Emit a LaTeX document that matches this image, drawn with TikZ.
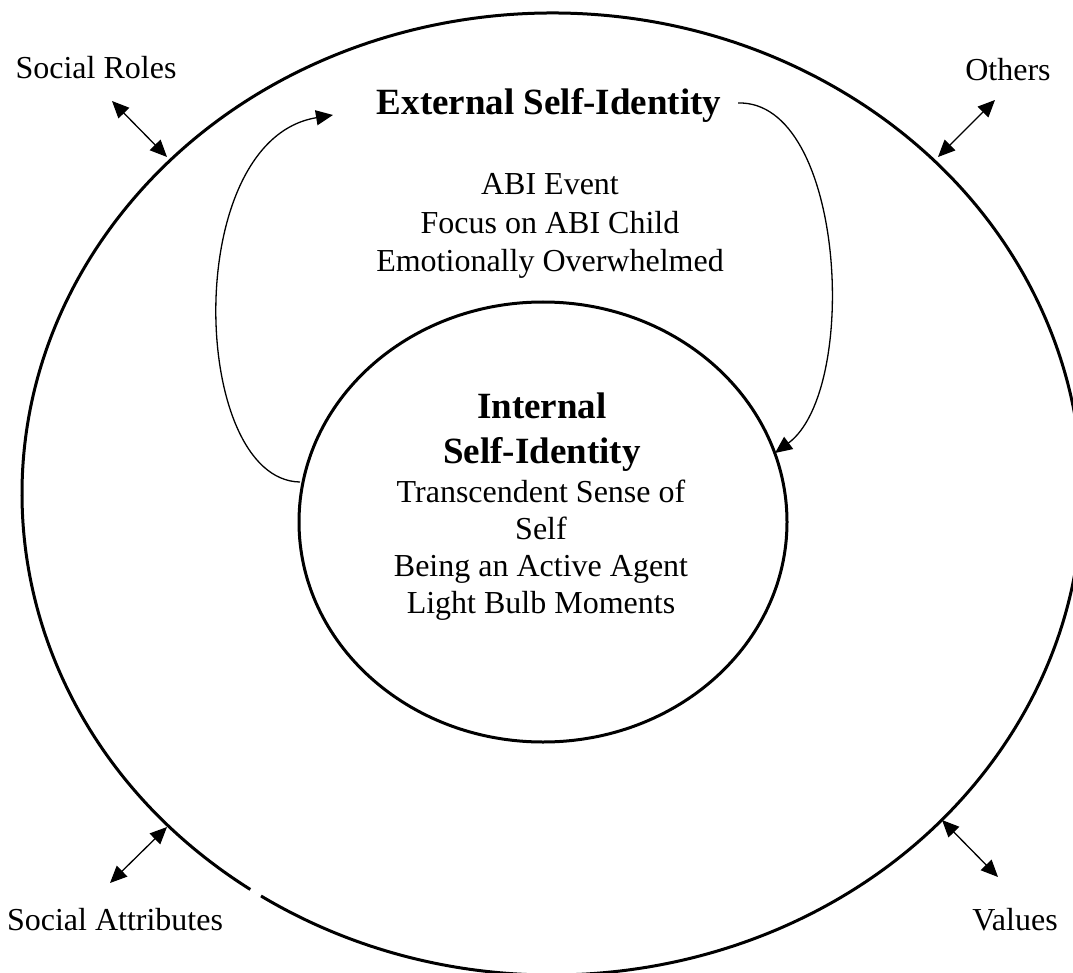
\documentclass[tikz,border=0pt]{standalone}
\usepackage{fontspec}
\setmainfont{Liberation Serif}
\usetikzlibrary{arrows.meta,shapes.geometric}
\begin{document}
\begin{tikzpicture}[x=1pt,y=-1pt,
  lbl/.style={font=\fontsize{32}{38.5}\selectfont, inner sep=0pt, align=center},
  bodyline/.style={font=\fontsize{32}{38.5}\selectfont, inner sep=0pt, anchor=base},
  ttl/.style={font=\fontsize{37}{45}\selectfont\bfseries, inner sep=0pt, align=center},
  ttlline/.style={font=\fontsize{37}{45}\selectfont\bfseries, inner sep=0pt, anchor=base},
  rim/.style={line width=3pt},
  tip/.tip={Triangle[length=17pt,width=15pt]},
  dbl/.style={line width=1.3pt, tip-tip},
  loopline/.style={line width=1.3pt, -tip}]
\clip (0,0) rectangle (1073,973);
\useasboundingbox (0,0) rectangle (1073,973);

% outer ellipse (with small gap at lower left)
\coordinate (outerc) at (552,494);
\draw[rim] (outerc) ++(236.7:530pt and 481pt)
  arc[start angle=236.7, end angle=595.3, x radius=530pt, y radius=481pt];

% inner ellipse
\node[draw, rim, ellipse, minimum width=488pt, minimum height=440pt, inner sep=0pt] (inner) at (543,522) {};

% texts
\node[ttl] (ext) at (549,105) {External Self-Identity};
\node[lbl] (abi) at (550,226) {ABI Event\\Focus on ABI Child\\Emotionally Overwhelmed};

\node[ttlline] (i1) at (542,418) {Internal};
\node[ttlline] (i2) at (542,463) {Self-Identity};
\node[bodyline] (i3) at (541,502) {Transcendent Sense of};
\node[bodyline] (i4) at (541,539) {Self};
\node[bodyline] (i5) at (541,576) {Being an Active Agent};
\node[bodyline] (i6) at (541,613) {Light Bulb Moments};

\node[lbl] (roles) at (96,68) {Social Roles};
\node[lbl] (others) at (1008,70) {Others};
\node[lbl] (attr) at (115,920) {Social Attributes};
\node[lbl] (values) at (1015,920) {Values};

% loop connectors
\coordinate (l1) at (300,482);
\coordinate (l2) at (333,115);
\draw[loopline] (l1) .. controls (190,480) and (180,140) .. (l2);
\coordinate (r1) at (738,103);
\coordinate (r2) at (775,453);
\draw[loopline] (r1) .. controls (845,100) and (860,390) .. (r2);

% double arrows
\coordinate (a1) at (112,101); \coordinate (a2) at (167,157);
\draw[dbl] (a1) -- (a2);
\coordinate (b1) at (995,100); \coordinate (b2) at (938,157);
\draw[dbl] (b1) -- (b2);
\coordinate (c1) at (110,883); \coordinate (c2) at (167,827);
\draw[dbl] (c1) -- (c2);
\coordinate (d1) at (998,877); \coordinate (d2) at (942,820);
\draw[dbl] (d1) -- (d2);
\end{tikzpicture}
\end{document}
